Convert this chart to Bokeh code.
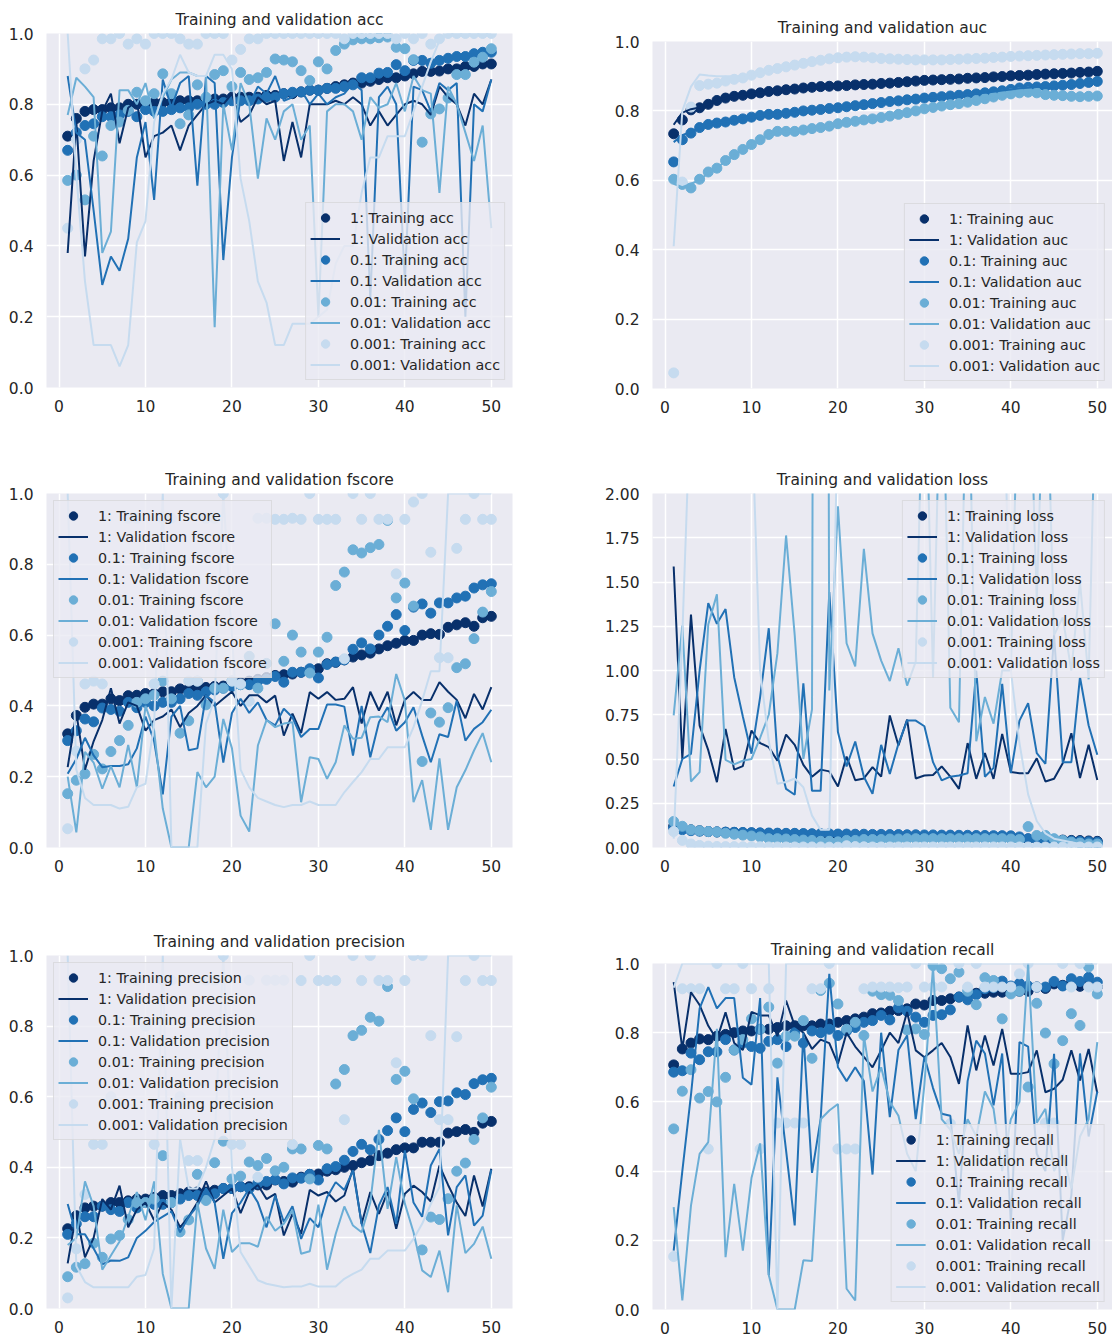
from bokeh.plotting import figure
from bokeh.models import Range1d, FixedTicker, Legend, LegendItem
from bokeh.layouts import row, column
from bokeh.embed import file_html
from bokeh.resources import INLINE

epochs = list(range(1, 51))
lrs = ["1", "0.1", "0.01", "0.001"]
colors = ["#08306b", "#2171b5", "#6baed6", "#c6dbef"]

# ---------------- acc ----------------
acc_tr_1 = [0.71,0.76,0.78,0.785,0.785,0.79,0.79,0.80,0.80,0.80, 0.805,0.805,0.805,0.81,0.81,0.81,0.81,0.815,0.815,0.82, 0.82,0.82,0.82,0.825,0.825,0.83,0.83,0.835,0.84,0.84, 0.845,0.85,0.855,0.86,0.86,0.865,0.87,0.875,0.875,0.88, 0.886,0.893,0.893,0.894,0.90,0.90,0.907,0.907,0.914,0.914]
acc_va_1 = [0.38,0.75,0.37,0.64,0.78,0.83,0.69,0.79,0.81,0.65, 0.71,0.72,0.74,0.67,0.74,0.77,0.80,0.81,0.80,0.83, 0.75,0.77,0.82,0.80,0.81,0.64,0.75,0.65,0.80,0.80, 0.80,0.81,0.80,0.82,0.80,0.74,0.78,0.74,0.77,0.80, 0.81,0.80,0.77,0.85,0.82,0.80,0.74,0.83,0.80,0.87]
acc_tr_01 = [0.67,0.72,0.74,0.745,0.765,0.765,0.77,0.78,0.765,0.785, 0.78,0.78,0.785,0.79,0.79,0.80,0.80,0.80,0.805,0.81, 0.81,0.81,0.815,0.82,0.82,0.83,0.834,0.835,0.84,0.84, 0.845,0.845,0.85,0.855,0.875,0.875,0.888,0.89,0.912,0.895, 0.924,0.924,0.916,0.924,0.93,0.935,0.935,0.943,0.947,0.947]
acc_va_01 = [0.88,0.72,0.70,0.50,0.29,0.37,0.33,0.42,0.65,0.75, 0.53,0.87,0.79,0.86,0.88,0.57,0.88,0.86,0.36,0.65, 0.82,0.80,0.85,0.83,0.88,0.81,0.82,0.84,0.80,0.83, 0.80,0.82,0.83,0.86,0.84,0.25,0.82,0.85,0.80,0.30, 0.85,0.84,0.78,0.86,0.84,0.86,0.20,0.80,0.78,0.87]
acc_tr_001 = [0.585,0.60,0.53,0.71,0.654,0.74,0.75,0.783,0.834,0.81, 0.83,0.886,0.83,0.745,0.77,0.855,0.82,0.884,0.895,0.85, 0.89,0.87,0.875,0.89,0.928,0.925,0.92,0.895,0.867,0.92, 0.90,0.952,0.97,0.982,0.985,0.985,0.988,0.99,0.961,0.957, 0.926,0.693,0.773,0.787,0.818,0.884,0.884,0.919,0.933,0.957]
acc_va_001 = [0.77,0.875,0.85,0.82,0.38,0.44,0.84,0.84,0.80,0.86, 0.76,0.82,0.87,0.89,0.89,0.88,0.88,0.17,0.80,0.67, 0.86,0.80,0.59,0.76,0.70,0.78,0.80,0.70,0.74,0.20, 0.78,0.80,0.80,0.78,0.70,0.82,0.79,0.80,0.86,0.78, 0.88,0.84,0.83,0.55,0.85,0.80,0.72,0.64,0.74,0.45]
acc_tr_0001 = [0.45,0.70,0.90,0.925,0.985,0.985,1.0,0.97,0.985,0.97, 1.0,1.0,1.0,0.985,0.97,0.97,1.0,1.0,1.0,0.925, 0.955,0.985,0.985,1.0,1.0,1.0,1.0,1.0,1.0,1.0, 1.0,1.0,0.985,1.0,1.0,1.0,1.0,1.0,0.985,1.0, 0.985,1.0,0.97,0.985,1.0,1.0,1.0,1.0,1.0,1.0]
acc_va_0001 = [1.0,0.60,0.30,0.12,0.12,0.12,0.06,0.12,0.41,0.47, 0.75,0.83,0.87,0.94,0.89,0.88,0.88,0.94,0.94,0.90, 0.59,0.47,0.30,0.24,0.12,0.12,0.18,0.18,0.18,0.20, 0.22,0.35,0.40,0.40,0.55,0.65,0.65,0.71,0.71,0.71, 0.78,0.85,0.92,0.98,1.0,1.0,1.0,1.0,1.0,1.0]

# ---------------- auc ----------------
auc_tr_1 = [0.734,0.774,0.803,0.809,0.819,0.830,0.837,0.842,0.845,0.849, 0.852,0.856,0.858,0.861,0.863,0.866,0.868,0.870,0.871,0.872, 0.873,0.875,0.876,0.877,0.879,0.880,0.882,0.884,0.886,0.888, 0.889,0.890,0.891,0.892,0.894,0.895,0.896,0.898,0.899,0.901, 0.902,0.903,0.905,0.906,0.907,0.908,0.909,0.911,0.912,0.914]
auc_va_1 = [0.76,0.795,0.805,0.81,0.82,0.829,0.837,0.843,0.846,0.849, 0.852,0.855,0.858,0.861,0.864,0.866,0.868,0.869,0.871,0.872, 0.873,0.875,0.876,0.878,0.879,0.881,0.882,0.884,0.886,0.887, 0.889,0.890,0.891,0.893,0.894,0.895,0.897,0.898,0.899,0.901, 0.902,0.904,0.905,0.906,0.907,0.909,0.910,0.911,0.912,0.913]
auc_tr_01 = [0.653,0.717,0.736,0.752,0.761,0.765,0.768,0.773,0.777,0.782, 0.787,0.79,0.79,0.793,0.796,0.800,0.802,0.804,0.807,0.809, 0.812,0.815,0.818,0.821,0.824,0.827,0.829,0.832,0.834,0.837, 0.839,0.841,0.843,0.845,0.847,0.849,0.852,0.855,0.858,0.862, 0.866,0.868,0.869,0.870,0.872,0.874,0.876,0.879,0.882,0.885]
auc_va_01 = [0.71,0.73,0.74,0.752,0.76,0.765,0.769,0.773,0.778,0.782, 0.786,0.789,0.791,0.793,0.797,0.800,0.802,0.805,0.807,0.810, 0.812,0.815,0.818,0.821,0.824,0.826,0.829,0.832,0.835,0.837, 0.839,0.841,0.843,0.845,0.847,0.850,0.852,0.855,0.859,0.862, 0.865,0.867,0.869,0.871,0.872,0.874,0.876,0.878,0.881,0.884]
auc_tr_001 = [0.603,0.588,0.578,0.603,0.624,0.635,0.657,0.674,0.689,0.703, 0.717,0.732,0.741,0.741,0.741,0.745,0.749,0.752,0.756,0.763, 0.767,0.770,0.774,0.777,0.781,0.785,0.790,0.795,0.800,0.806, 0.810,0.814,0.818,0.821,0.825,0.830,0.835,0.840,0.845,0.849, 0.852,0.854,0.852,0.847,0.845,0.844,0.842,0.841,0.842,0.843]
auc_va_001 = [0.59,0.58,0.59,0.60,0.622,0.636,0.655,0.672,0.688,0.702, 0.716,0.73,0.739,0.741,0.742,0.745,0.748,0.752,0.757,0.762, 0.766,0.770,0.774,0.778,0.782,0.786,0.790,0.795,0.800,0.805, 0.809,0.813,0.817,0.821,0.826,0.830,0.835,0.840,0.844,0.848, 0.851,0.853,0.851,0.848,0.845,0.843,0.842,0.841,0.842,0.842]
auc_tr_0001 = [0.045,0.595,0.811,0.873,0.877,0.880,0.886,0.891,0.895,0.903, 0.910,0.917,0.922,0.927,0.932,0.937,0.942,0.946,0.950,0.953, 0.955,0.956,0.955,0.953,0.951,0.950,0.949,0.948,0.947,0.947, 0.947,0.947,0.948,0.949,0.950,0.951,0.952,0.954,0.955,0.957, 0.958,0.959,0.960,0.961,0.962,0.963,0.964,0.965,0.965,0.966]
auc_va_0001 = [0.41,0.80,0.87,0.905,0.902,0.90,0.90,0.90,0.90,0.905, 0.91,0.917,0.922,0.927,0.932,0.937,0.941,0.946,0.95,0.953, 0.955,0.955,0.954,0.952,0.951,0.95,0.949,0.948,0.947,0.947, 0.947,0.947,0.948,0.949,0.95,0.951,0.952,0.953,0.955,0.957, 0.958,0.959,0.96,0.961,0.962,0.963,0.964,0.965,0.965,0.966]

# ---------------- fscore ----------------
f_tr_1 = [0.321,0.373,0.396,0.405,0.405,0.42,0.415,0.429,0.43,0.435, 0.435,0.44,0.44,0.448,0.448,0.45,0.452,0.455,0.456,0.46, 0.465,0.47,0.475,0.48,0.486,0.488,0.49,0.495,0.502,0.505, 0.519,0.523,0.53,0.538,0.544,0.549,0.561,0.57,0.577,0.585, 0.585,0.60,0.604,0.602,0.622,0.629,0.635,0.625,0.649,0.653]
f_va_1 = [0.227,0.38,0.22,0.30,0.36,0.45,0.35,0.41,0.40,0.33, 0.36,0.37,0.39,0.34,0.38,0.40,0.43,0.40,0.42,0.44, 0.40,0.43,0.43,0.41,0.429,0.316,0.378,0.323,0.439,0.42, 0.439,0.417,0.42,0.453,0.35,0.44,0.387,0.44,0.345,0.417, 0.439,0.417,0.417,0.467,0.44,0.417,0.365,0.434,0.39,0.453]
f_tr_01 = [0.302,0.33,0.363,0.355,0.394,0.39,0.385,0.41,0.395,0.41, 0.40,0.41,0.41,0.42,0.435,0.43,0.44,0.445,0.45,0.455, 0.46,0.46,0.47,0.475,0.483,0.467,0.495,0.495,0.505,0.479, 0.517,0.524,0.53,0.56,0.578,0.561,0.60,0.625,0.658,0.613, 0.679,0.688,0.662,0.691,0.691,0.705,0.71,0.733,0.742,0.745]
f_va_01 = [0.208,0.25,0.31,0.26,0.227,0.23,0.23,0.235,0.28,0.37, 0.30,0.15,0.37,0.40,0.275,0.28,0.43,0.41,0.24,0.38, 0.42,0.38,0.41,0.36,0.345,0.392,0.368,0.312,0.335,0.335, 0.404,0.404,0.398,0.26,0.40,0.255,0.354,0.396,0.33,0.354, 0.396,0.316,0.241,0.32,0.312,0.415,0.302,0.335,0.354,0.389]
f_tr_001 = [0.152,0.19,0.208,0.263,0.222,0.271,0.302,0.345,0.41,0.42, 0.43,0.47,0.42,0.323,0.358,0.47,0.403,0.45,0.45,0.47, 0.46,0.54,0.45,0.52,0.632,0.526,0.60,0.552,0.493,0.552, 0.594,0.74,0.778,0.841,0.832,0.847,0.856,0.924,0.705,0.747, 0.682,0.243,0.38,0.354,0.395,0.508,0.519,0.59,0.665,0.723]
f_va_001 = [0.20,0.043,0.27,0.24,0.166,0.23,0.17,0.29,0.17,0.40, 0.33,0.11,0.0,0.0,0.0,0.213,0.17,0.20,0.363,0.28, 0.09,0.045,0.288,0.36,0.34,0.35,0.354,0.128,0.255,0.25, 0.194,0.241,0.345,0.307,0.31,0.368,0.37,0.354,0.49,0.415, 0.128,0.19,0.05,0.252,0.05,0.17,0.218,0.274,0.323,0.241]
f_tr_0001 = [0.053,0.272,0.462,0.47,0.462,0.60,0.70,0.93,0.93,0.80, 0.462,0.93,0.93,0.60,0.47,0.47,0.93,0.93,1.0,0.47, 0.462,0.413,0.93,0.93,0.927,0.927,0.93,0.927,1.0,0.927, 0.927,0.927,0.533,1.0,0.927,1.0,0.927,0.927,0.773,0.927, 0.976,1.0,0.834,0.536,0.536,0.845,0.927,1.0,0.927,0.927]
f_va_0001 = [1.0,0.22,0.14,0.12,0.12,0.12,0.11,0.115,0.17,0.18, 0.35,1.0,0.0,0.0,0.0,0.0,0.35,0.42,1.0,0.60, 0.22,0.17,0.14,0.13,0.12,0.114,0.12,0.12,0.13,0.12, 0.12,0.12,0.156,0.185,0.213,0.25,0.25,0.283,0.283,0.283, 0.34,0.415,0.498,0.498,1.0,1.0,1.0,1.0,1.0,1.0]

# ---------------- loss ----------------
l_tr_1 = [0.12,0.11,0.10,0.095,0.09,0.088,0.086,0.085,0.083,0.082, 0.08,0.079,0.078,0.077,0.076,0.075,0.074,0.073,0.072,0.071, 0.07,0.069,0.068,0.067,0.066,0.065,0.064,0.063,0.062,0.061, 0.06,0.059,0.058,0.057,0.056,0.055,0.054,0.053,0.052,0.051, 0.05,0.048,0.046,0.045,0.043,0.042,0.04,0.039,0.037,0.035]
l_va_1 = [1.588,0.50,1.316,0.689,0.55,0.369,0.67,0.44,0.46,0.661, 0.59,0.567,0.49,0.638,0.58,0.467,0.40,0.44,0.43,0.345, 0.514,0.38,0.39,0.454,0.40,0.746,0.576,0.723,0.39,0.407, 0.41,0.458,0.40,0.331,0.59,0.388,0.533,0.388,0.642,0.426, 0.42,0.42,0.504,0.373,0.388,0.476,0.646,0.392,0.58,0.382]
l_tr_01 = [0.11,0.10,0.095,0.092,0.09,0.088,0.087,0.086,0.085,0.084, 0.083,0.082,0.081,0.08,0.08,0.079,0.078,0.078,0.077,0.076, 0.076,0.075,0.075,0.074,0.074,0.073,0.073,0.072,0.072,0.071, 0.071,0.07,0.07,0.069,0.069,0.068,0.068,0.067,0.067,0.066, 0.06,0.05,0.045,0.042,0.04,0.038,0.036,0.034,0.032,0.03]
l_va_01 = [0.345,0.50,0.529,1.0,1.38,1.264,1.347,0.962,0.74,0.53, 0.85,1.239,0.52,0.331,0.298,0.928,0.32,0.32,1.443,0.652, 0.458,0.599,0.40,0.303,0.58,0.416,0.586,0.717,0.717,0.685, 0.482,0.379,0.40,0.407,0.42,1.0,0.40,0.45,0.925,0.42, 0.717,0.815,0.533,0.473,1.2,0.482,0.482,0.962,0.689,0.524]
l_tr_001 = [0.147,0.12,0.10,0.095,0.09,0.088,0.08,0.075,0.07,0.065, 0.06,0.05,0.05,0.048,0.045,0.042,0.04,0.035,0.035,0.032, 0.04,0.04,0.045,0.045,0.045,0.048,0.048,0.05,0.05,0.05, 0.05,0.05,0.05,0.05,0.05,0.05,0.05,0.05,0.05,0.048, 0.045,0.118,0.068,0.068,0.05,0.04,0.03,0.025,0.02,0.02]
l_va_001 = [0.746,1.254,0.373,0.426,1.26,1.43,0.495,0.47,0.49,0.50, 0.62,0.75,1.098,1.763,1.2,0.50,0.78,20.0,0.887,1.927, 1.154,1.023,1.687,1.21,1.056,0.94,1.126,0.915,1.05,3.0, 0.96,3.0,0.79,0.708,3.0,0.60,0.85,0.70,1.0,1.0, 3.0,3.0,1.4,3.0,1.2,1.3,1.0,1.5,0.95,3.0]
l_tr_0001 = [0.09,0.04,0.02,0.012,0.008,0.006,0.005,0.005,0.004,0.004, 0.004,0.003,0.003,0.003,0.003,0.003,0.003,0.003,0.002,0.002, 0.01,0.005,0.004,0.003,0.003,0.003,0.003,0.003,0.003,0.003, 0.003,0.003,0.003,0.003,0.003,0.003,0.003,0.003,0.003,0.003, 0.003,0.003,0.003,0.003,0.003,0.003,0.003,0.003,0.003,0.003]
l_va_0001 = [0.05,1.2,2.6,5.0,5.0,5.0,5.0,5.0,5.0,2.5, 1.0,0.6,0.36,0.37,0.39,0.34,0.18,0.10,0.10,2.5, 5.0,5.0,5.0,5.0,5.0,5.0,5.0,5.0,5.0,5.0, 5.0,5.0,5.0,5.0,5.0,5.0,5.0,5.0,3.0,1.0, 0.59,0.30,0.15,0.08,0.05,0.04,0.03,0.02,0.015,0.01]

# ---------------- precision ----------------
p_tr_1 = [0.226,0.263,0.285,0.29,0.29,0.30,0.30,0.305,0.31,0.31, 0.315,0.32,0.32,0.325,0.33,0.33,0.33,0.335,0.34,0.34, 0.345,0.345,0.35,0.35,0.364,0.36,0.358,0.372,0.38,0.381, 0.389,0.393,0.40,0.405,0.413,0.419,0.433,0.44,0.45,0.455, 0.455,0.471,0.471,0.471,0.497,0.501,0.507,0.499,0.525,0.53]
p_va_1 = [0.128,0.27,0.145,0.20,0.31,0.28,0.348,0.23,0.28,0.30, 0.25,0.30,0.28,0.23,0.26,0.30,0.36,0.30,0.32,0.34, 0.27,0.33,0.35,0.31,0.325,0.207,0.268,0.211,0.336,0.32, 0.33,0.303,0.32,0.396,0.24,0.33,0.268,0.33,0.226,0.325, 0.348,0.33,0.303,0.405,0.35,0.30,0.262,0.377,0.289,0.396]
p_tr_01 = [0.21,0.24,0.26,0.26,0.29,0.28,0.275,0.30,0.285,0.30, 0.295,0.295,0.30,0.31,0.32,0.32,0.32,0.325,0.34,0.34, 0.345,0.34,0.355,0.36,0.365,0.353,0.37,0.369,0.38,0.364, 0.396,0.402,0.42,0.445,0.465,0.45,0.479,0.504,0.54,0.501, 0.564,0.582,0.555,0.586,0.588,0.611,0.606,0.637,0.648,0.652]
p_va_01 = [0.296,0.21,0.21,0.17,0.125,0.136,0.135,0.145,0.20,0.22, 0.245,0.26,0.275,0.216,0.26,0.29,0.34,0.30,0.141,0.27, 0.30,0.34,0.30,0.23,0.32,0.245,0.29,0.197,0.256,0.23, 0.315,0.358,0.336,0.391,0.24,0.157,0.292,0.344,0.24,0.448, 0.30,0.26,0.405,0.452,0.207,0.344,0.377,0.235,0.263,0.393]
p_tr_001 = [0.09,0.117,0.127,0.185,0.145,0.197,0.207,0.252,0.30,0.30, 0.31,0.433,0.30,0.217,0.251,0.38,0.306,0.413,0.474,0.367, 0.375,0.415,0.405,0.425,0.39,0.40,0.452,0.452,0.367,0.462, 0.452,0.636,0.677,0.773,0.788,0.825,0.814,0.912,0.649,0.672, 0.594,0.166,0.259,0.252,0.311,0.389,0.412,0.479,0.54,0.627]
p_va_001 = [0.18,0.20,0.36,0.29,0.11,0.15,0.19,0.26,0.33,0.25, 0.36,0.098,0.0,0.0,0.0,0.30,0.17,0.112,0.28,0.16, 0.185,0.185,0.175,0.26,0.22,0.24,0.278,0.155,0.162,0.294, 0.11,0.211,0.289,0.235,0.216,0.30,0.506,0.282,0.429,0.297, 0.216,0.108,0.089,0.164,0.046,0.292,0.157,0.183,0.232,0.141]
p_tr_0001 = [0.03,0.169,0.323,0.465,0.465,0.60,0.70,0.93,0.93,0.80, 0.465,0.93,0.93,0.60,0.419,0.419,0.93,0.93,1.0,0.465, 0.465,0.93,0.372,0.93,0.93,0.93,0.465,0.929,1.0,0.929, 0.929,0.929,0.535,1.0,0.929,1.0,0.929,0.929,0.696,0.929, 1.0,1.0,0.773,0.535,0.535,0.77,0.929,1.0,0.929,0.929]
p_va_0001 = [1.0,0.12,0.075,0.06,0.06,0.06,0.06,0.06,0.09,0.095, 0.17,1.0,0.0,0.48,0.34,0.34,0.40,0.48,1.0,0.40, 0.16,0.12,0.08,0.07,0.065,0.06,0.062,0.062,0.07,0.062, 0.062,0.062,0.084,0.098,0.11,0.141,0.141,0.164,0.164,0.164, 0.197,0.24,0.296,0.344,1.0,1.0,1.0,1.0,1.0,1.0]

# ---------------- recall ----------------
r_tr_1 = [0.707,0.753,0.77,0.782,0.78,0.79,0.795,0.80,0.805,0.805, 0.81,0.81,0.815,0.82,0.82,0.82,0.82,0.825,0.825,0.83, 0.835,0.84,0.845,0.855,0.857,0.862,0.864,0.869,0.883,0.88, 0.893,0.893,0.898,0.903,0.908,0.914,0.914,0.917,0.917,0.917, 0.92,0.92,0.932,0.928,0.941,0.937,0.943,0.934,0.943,0.932]
r_va_1 = [0.946,0.753,0.917,0.88,0.82,0.78,0.859,0.77,0.75,0.86, 0.85,0.85,0.79,0.893,0.82,0.80,0.753,0.78,0.77,0.71, 0.80,0.76,0.73,0.70,0.749,0.80,0.77,0.86,0.749,0.729, 0.749,0.77,0.73,0.652,0.821,0.691,0.792,0.705,0.811,0.681, 0.681,0.686,0.749,0.628,0.638,0.664,0.749,0.662,0.753,0.625]
r_tr_01 = [0.686,0.69,0.741,0.722,0.745,0.745,0.78,0.75,0.77,0.76, 0.755,0.775,0.78,0.76,0.80,0.77,0.805,0.80,0.81,0.792, 0.805,0.815,0.83,0.835,0.85,0.837,0.872,0.862,0.845,0.83, 0.85,0.852,0.866,0.903,0.895,0.91,0.927,0.93,0.949,0.935, 0.943,0.935,0.932,0.932,0.948,0.935,0.956,0.948,0.96,0.946]
r_va_01 = [0.17,0.40,0.62,0.87,0.932,0.87,0.90,0.90,0.67,0.65, 0.90,0.10,0.671,0.46,0.243,0.80,0.395,0.55,0.97,0.70, 0.66,0.70,0.66,0.39,0.80,0.556,0.75,0.792,0.55,0.731, 0.64,0.566,0.56,0.305,0.66,0.777,0.74,0.59,0.74,0.25, 0.773,0.76,0.45,0.40,0.739,0.20,0.33,0.74,0.50,0.63]
r_tr_001 = [0.522,0.631,0.693,0.611,0.63,0.60,0.671,0.75,0.78,0.84, 0.81,0.874,0.712,0.79,0.79,0.835,0.726,0.922,0.943,0.883, 0.81,0.83,0.792,0.92,0.91,0.908,0.893,0.808,0.811,0.795, 0.994,0.985,0.956,0.975,0.92,0.881,0.959,0.951,0.84,0.912, 0.92,0.643,0.885,0.799,0.71,0.777,0.855,0.821,0.99,0.912]
r_va_001 = [0.296,0.026,0.30,0.45,0.484,0.811,0.151,0.363,0.17,0.38, 0.48,0.10,0.0,0.0,0.0,0.142,0.14,0.55,0.575,0.594, 0.06,0.026,0.792,0.63,0.70,0.60,0.56,0.45,0.40,0.65, 0.99,0.55,0.52,0.45,0.55,0.50,0.63,0.58,0.40,0.55, 0.60,1.0,0.54,0.58,0.40,0.45,0.35,0.50,0.55,0.773]
r_tr_0001 = [0.153,0.927,0.927,0.927,0.464,1.0,0.927,0.927,1.0,0.927, 0.464,0.927,0.539,0.539,0.539,0.539,0.927,0.927,1.0,0.464, 0.464,0.464,0.927,0.932,0.932,0.932,0.93,0.932,1.0,0.932, 0.932,0.932,0.537,1.0,0.932,1.0,0.932,0.932,0.932,0.932, 0.97,1.0,0.932,0.539,0.539,1.0,0.932,1.0,0.932,0.932]
r_va_0001 = [0.93,1.0,1.0,1.0,1.0,1.0,1.0,1.0,1.0,1.0, 1.0,1.0,0.0,1.0,1.0,1.0,1.0,1.0,1.0,1.0, 1.0,1.0,1.0,1.0,1.0,1.0,1.0,1.0,1.0,1.0, 1.0,1.0,1.0,1.0,1.0,1.0,1.0,1.0,1.0,1.0, 1.0,1.0,1.0,1.0,1.0,1.0,1.0,1.0,1.0,1.0]

x_ticks = [0, 10, 20, 30, 40, 50]
unit_ticks = [0.0, 0.2, 0.4, 0.6, 0.8, 1.0]
unit_labels = ["0.0", "0.2", "0.4", "0.6", "0.8", "1.0"]
loss_ticks = [0.0, 0.25, 0.5, 0.75, 1.0, 1.25, 1.5, 1.75, 2.0]
loss_labels = ["0.00", "0.25", "0.50", "0.75", "1.00", "1.25", "1.50", "1.75", "2.00"]

FONT = "DejaVu Sans"
TXT = "#262626"

LEFT = dict(bl=46, fw=466, br=88, xr=(-1.45, 52.45))
RIGHT = dict(bl=52, fw=460, br=0, xr=(-1.45, 51.76))


def panel(metric, trains, vals, yr, yticks, ylabels, loc, col, top, fh, bottom):
    p = figure(frame_width=col["fw"], frame_height=fh,
               min_border_left=col["bl"], min_border_right=col["br"],
               min_border_top=top, min_border_bottom=bottom,
               x_range=Range1d(*col["xr"]), y_range=Range1d(*yr),
               output_backend="svg", toolbar_location=None,
               title="Training and validation " + metric)
    p.background_fill_color = "#EAEAF2"
    p.border_fill_color = "white"
    p.outline_line_color = None
    p.title.text_font = FONT
    p.title.text_font_size = "15.5px"
    p.title.text_font_style = "normal"
    p.title.text_color = TXT
    p.title.align = "center"
    p.title.standoff = 9
    for ax in (p.xaxis[0], p.yaxis[0]):
        ax.axis_line_color = None
        ax.major_tick_line_color = None
        ax.minor_tick_line_color = None
        ax.major_label_text_font = FONT
        ax.major_label_text_font_size = "15.5px"
        ax.major_label_text_color = TXT
    p.xaxis.major_label_standoff = 6
    p.yaxis.major_label_standoff = 7
    p.xaxis.ticker = FixedTicker(ticks=x_ticks)
    p.yaxis.ticker = FixedTicker(ticks=yticks)
    p.yaxis.major_label_overrides = {t: s for t, s in zip(yticks, ylabels)}
    p.grid.grid_line_color = "white"
    p.grid.grid_line_width = 1.5

    scat = []
    for c, tr in zip(colors, trains):
        scat.append(p.scatter(epochs, tr, size=10, fill_color=c, line_color=c))
    lns = []
    for c, va in zip(colors, vals):
        lns.append(p.line(epochs, va, line_width=2, line_color=c))
    items = []
    for lr, s, l in zip(lrs, scat, lns):
        items.append(LegendItem(label=lr + ": Training " + metric, renderers=[s]))
        items.append(LegendItem(label=lr + ": Validation " + metric, renderers=[l]))
    leg = Legend(items=items, location=loc)
    leg.background_fill_color = "#EAEAF2"
    leg.background_fill_alpha = 0.8
    leg.border_line_color = "#cccccc"
    leg.border_line_width = 1
    leg.label_text_font = FONT
    leg.label_text_font_size = "14.3px"
    leg.label_text_color = TXT
    leg.glyph_width = 30
    leg.glyph_height = 21
    leg.label_height = 17
    leg.spacing = 0
    leg.padding = 4
    leg.margin = 7
    leg.label_standoff = 10
    p.add_layout(leg)
    return p


p_acc = panel("acc", [acc_tr_1, acc_tr_01, acc_tr_001, acc_tr_0001],
              [acc_va_1, acc_va_01, acc_va_001, acc_va_0001],
              (0, 1), unit_ticks, unit_labels, "bottom_right", LEFT, 33, 354, 73)
p_auc = panel("auc", [auc_tr_1, auc_tr_01, auc_tr_001, auc_tr_0001],
              [auc_va_1, auc_va_01, auc_va_001, auc_va_0001],
              (0, 1), unit_ticks, unit_labels, "bottom_right", RIGHT, 41, 347, 72)
p_f = panel("fscore", [f_tr_1, f_tr_01, f_tr_001, f_tr_0001],
            [f_va_1, f_va_01, f_va_001, f_va_0001],
            (0, 1), unit_ticks, unit_labels, "top_left", LEFT, 33, 354, 73)
p_loss = panel("loss", [l_tr_1, l_tr_01, l_tr_001, l_tr_0001],
               [l_va_1, l_va_01, l_va_001, l_va_0001],
               (0, 2), loss_ticks, loss_labels, "top_right", RIGHT, 33, 354, 73)
p_prec = panel("precision", [p_tr_1, p_tr_01, p_tr_001, p_tr_0001],
               [p_va_1, p_va_01, p_va_001, p_va_0001],
               (0, 1), unit_ticks, unit_labels, "top_left", LEFT, 35, 353, 27)
p_rec = panel("recall", [r_tr_1, r_tr_01, r_tr_001, r_tr_0001],
              [r_va_1, r_va_01, r_va_001, r_va_0001],
              (0, 1), unit_ticks, unit_labels, "bottom_right", RIGHT, 43, 346, 26)

layout = row(column(p_acc, p_f, p_prec), column(p_auc, p_loss, p_rec))

open("out.html", "w").write(file_html(layout, INLINE))
